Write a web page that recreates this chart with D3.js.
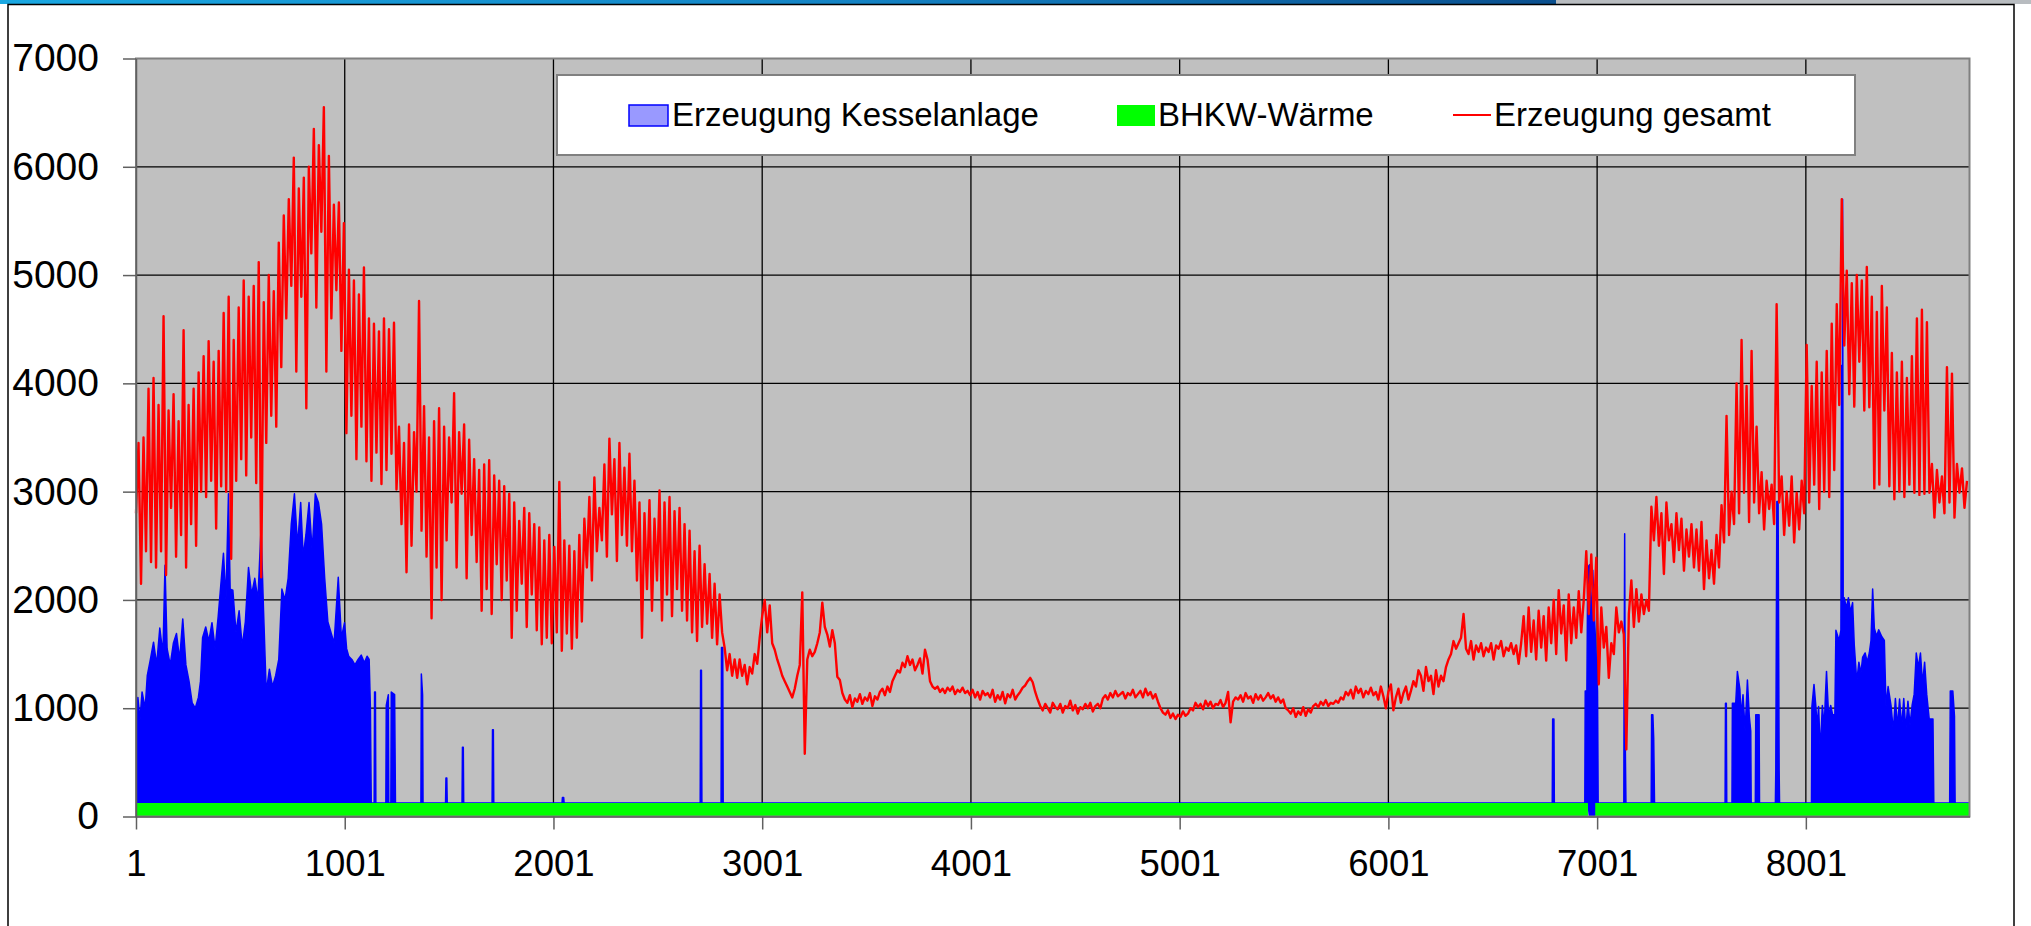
<!DOCTYPE html>
<html>
<head>
<meta charset="utf-8">
<script src="https://cdn.jsdelivr.net/npm/d3@7"></script>
<style>
  body { margin: 0; background: #fff; }
  svg { display: block; font-family: "Liberation Sans", Arial, sans-serif; }
</style>
</head>
<body>
<svg id="chart" width="2031" height="926"></svg>
<script>
// Legend / series names
const serien = ['Erzeugung Kesselanlage', 'BHKW-Wärme', 'Erzeugung gesamt'];

// Axis ticks
const xTicks = [1, 1001, 2001, 3001, 4001, 5001, 6001, 7001, 8001];
const yTicks = [0, 1000, 2000, 3000, 4000, 5000, 6000, 7000];

const gesamt = [
  2800, 3450, 2150, 3500, 2450, 3950, 2350, 4050, 2300, 3800, 2450, 4620, 2230, 3750, 2850, 3900, 2400, 3650, 2600, 4490,
  2300, 3800, 2700, 3950, 2500, 4100, 3000, 4250, 2950, 4390, 3100, 4200, 2660, 4300, 3050, 4650, 3000, 4800, 2380, 4400,
  3100, 4700, 3300, 4950, 3150, 4800, 3500, 4900, 3080, 5120, 2210, 4750, 3450, 5000, 3700, 4850, 3600, 5300, 4150, 5550,
  4600, 5700, 4900, 6085, 4110, 5800, 4800, 5900, 3770, 6000, 5200, 6350, 4700, 6200, 5400, 6550, 4110, 6100, 4600, 5650,
  4860, 5670, 4300, 5480, 3540, 5050, 3700, 4950, 3300, 4820, 3600, 5070, 3280, 4600, 3100, 4550, 3360, 4480, 3070, 4600,
  3200, 4500, 3350, 4560, 3020, 3600, 2700, 3450, 2255, 3620, 2500, 3550, 3000, 4760, 2640, 3790, 2400, 3500, 1830, 3650,
  2300, 3770, 2000, 3600, 2550, 3500, 2900, 3910, 2300, 3550, 2980, 3620, 2200, 3480, 2600, 3300, 2350, 3200, 1900, 3250,
  2100, 3290, 1870, 3150, 2330, 3100, 2000, 3050, 2180, 2980, 1650, 2900, 1900, 2730, 2150, 2850, 1750, 2800, 2050, 2700,
  1720, 2670, 1590, 2550, 1650, 2600, 1600, 2490, 1700, 3090, 1530, 2550, 1690, 2500, 1550, 2450, 1650, 2600, 1800, 2750,
  2300, 2950, 2180, 3130, 2450, 2850, 2550, 3250, 2400, 3490, 2790, 3300, 2360, 3450, 2600, 3220, 2500, 3350, 2450, 3100,
  2180, 2900, 1650, 2800, 2100, 2920, 1900, 2750, 2180, 3010, 1810, 2900, 2050, 2950, 1850, 2820, 2100, 2850, 1900, 2700,
  1810, 2640, 1700, 2450, 1620, 2500, 1750, 2330, 1780, 2240, 1650, 2150, 1590, 2050, 1700, 1560, 1350, 1500, 1300, 1450,
  1280, 1450, 1300, 1400, 1220, 1380, 1320, 1500, 1410, 1650, 1850, 2000, 1700, 1950, 1600, 1540, 1450, 1380, 1300, 1250,
  1200, 1150, 1100, 1180, 1300, 1400, 2070, 580, 1450, 1540, 1480, 1520, 1600, 1700, 1975, 1750, 1680, 1570, 1720, 1600,
  1290, 1260, 1140, 1080, 1050, 1120, 1010, 1090, 1060, 1130, 1040, 1100, 1070, 1140, 1020, 1110, 1080, 1150, 1180, 1120,
  1200, 1150, 1250, 1300, 1350, 1330, 1420, 1380, 1480, 1400, 1450, 1350, 1400, 1460, 1320, 1540, 1450, 1250, 1200, 1180,
  1200, 1150, 1180, 1140, 1190, 1160, 1200, 1130, 1170, 1150, 1190, 1140, 1160, 1120, 1170, 1100, 1150, 1080, 1160, 1120,
  1140, 1100, 1170, 1060, 1120, 1080, 1150, 1045, 1130, 1100, 1170, 1080, 1120, 1150, 1190, 1210, 1250, 1280, 1240, 1150,
  1080, 1020, 980, 1040, 1000, 960, 1050, 1010, 990, 1040, 960, 1020, 1000, 1070, 980, 1030, 950, 1010, 990, 1040,
  1000, 1050, 970, 1020, 1040, 1000, 1090, 1120, 1080, 1140, 1100, 1160, 1110, 1130, 1150, 1090, 1140, 1120, 1170, 1100,
  1130, 1160, 1100, 1180, 1120, 1150, 1090, 1130, 1060, 1000, 960, 940, 980, 910, 950, 900, 940, 920, 970, 930,
  950, 1000, 980, 1050, 1010, 1040, 990, 1070, 1020, 1060, 1000, 1040, 1030, 1075, 1010, 1050, 1150, 870, 1060, 1100,
  1080, 1120, 1060, 1140, 1090, 1110, 1050, 1130, 1080, 1120, 1070, 1100, 1140, 1090, 1120, 1060, 1100, 1050, 1080, 1000,
  980, 950, 1000, 920, 970, 940, 1010, 930, 990, 960, 1020, 1040, 1010, 1060, 1030, 1075, 1020, 1050, 1040, 1070,
  1050, 1100, 1080, 1150, 1120, 1170, 1090, 1200, 1140, 1180, 1100, 1160, 1130, 1190, 1120, 1150, 1080, 1200, 1110, 1000,
  1150, 1220, 980, 1100, 1180, 1050, 1140, 1200, 1080, 1160, 1250, 1200, 1350, 1300, 1160, 1380, 1250, 1300, 1130, 1350,
  1200, 1300, 1250, 1380, 1450, 1500, 1620, 1550, 1600, 1650, 1870, 1550, 1500, 1620, 1450, 1580, 1520, 1600, 1480, 1560,
  1520, 1600, 1450, 1580, 1550, 1620, 1480, 1560, 1530, 1600, 1500, 1580, 1410, 1600, 1850, 1480, 1930, 1520, 1810, 1450,
  1900, 1560, 1850, 1440, 1930, 1600, 2000, 1500, 2090, 1690, 1950, 1440, 2050, 1600, 1930, 1650, 2080, 1700, 2000, 2450,
  1870, 2420, 1810, 2390, 1220, 1930, 1560, 1750, 1280, 1600, 1500, 1930, 1700, 1800, 1680, 620, 1870, 2180, 1750, 2100,
  1800, 2050, 1870, 2000, 1900, 2860, 2550, 2950, 2500, 2800, 2240, 2900, 2550, 2700, 2350, 2800, 2460, 2750, 2270, 2650,
  2400, 2700, 2300, 2650, 2270, 2720, 2100, 2550, 2200, 2460, 2150, 2600, 2300, 2875, 2530, 3700, 2600, 3000, 2700, 4000,
  2800, 4400, 2990, 3975, 2720, 4300, 2900, 3600, 2800, 3180, 2650, 3100, 2840, 3065, 2700, 4730, 2900, 3140, 2600, 3000,
  2685, 3140, 2530, 2990, 2650, 3100, 2800, 4355, 2900, 3975, 3065, 4200, 2840, 4100, 3000, 4300, 2950, 4550, 3200, 4730,
  3800, 5700, 4350, 5040, 3900, 4925, 3785, 5000, 4200, 4950, 3750, 5075, 3780, 4800, 3030, 4660, 3065, 4900, 3750, 4700,
  3050, 4280, 2930, 4100, 3000, 4200, 2950, 4050, 3065, 4250, 2990, 4600, 2970, 4680, 2980, 4565, 2990, 3255, 2760, 3200,
  2900, 3140, 2800, 4150, 2900, 4090, 2760, 3255, 2990, 3215, 2850, 3100
];
const stunden = gesamt.map((d, i) => 1 + 12 * i);

// BHKW-Wärme: [hour, value] where the level changes
const bhkw = [[1, 125], [6957, 0], [6992, 125], [8785, 125]];

// Erzeugung Kesselanlage: [hour, value] (stacked on top of BHKW)
const kessel = [
  [1, 675], [10, 975], [20, 765], [30, 1025], [45, 875], [55, 1175], [70, 1325], [85, 1485], [100, 1275], [115, 1615],
  [130, 1375], [140, 2195], [150, 1425], [165, 1275], [180, 1475], [195, 1565], [210, 1325], [225, 1700], [240, 1275],
  [255, 1125], [270, 925], [285, 875], [300, 975], [310, 1125], [320, 1525], [335, 1625], [350, 1495], [365, 1665],
  [380, 1425], [395, 1725], [410, 2075], [420, 2305], [432, 1875], [444, 2855], [452, 1975], [465, 1965], [480, 1575],
  [495, 1775], [510, 1445], [525, 1675], [540, 2175], [555, 1925], [570, 2075], [585, 1875], [600, 2535], [612, 1775],
  [625, 1025], [640, 1235], [655, 1075], [670, 1175], [685, 1325], [700, 1975], [715, 1875], [730, 2075], [745, 2575],
  [760, 2855], [775, 2375], [790, 2775], [802, 2275], [815, 2475], [830, 2775], [845, 2325], [860, 2855], [875, 2775],
  [890, 2575], [905, 2075], [920, 1675], [935, 1575], [950, 1475], [970, 2085], [985, 1525], [1000, 1665], [1010, 1425],
  [1020, 1355], [1035, 1325], [1050, 1275], [1065, 1325], [1080, 1365], [1095, 1295], [1108, 1355], [1118, 1325],
  [1124, 875], [1128, 0],
  [1142, 0], [1144, 1025], [1148, 1025], [1150, 0],
  [1198, 0], [1200, 900], [1210, 1000], [1212, 0], [1222, 0], [1224, 1025], [1240, 1000], [1244, 0],
  [1366, 0], [1368, 1190], [1374, 1000], [1376, 0],
  [1484, 0], [1486, 230], [1490, 230], [1492, 0],
  [1563, 0], [1565, 515], [1569, 515], [1571, 0],
  [1707, 0], [1709, 675], [1713, 675], [1715, 0],
  [2042, 0], [2044, 50], [2050, 50], [2052, 0],
  [2704, 0], [2706, 1225], [2710, 1225], [2712, 0],
  [2804, 0], [2806, 1435], [2812, 1435], [2814, 0],
  [6786, 0], [6788, 775], [6794, 775], [6796, 0],
  [6942, 0], [6944, 1035], [6952, 1035], [6956, 2175], [6965, 2325], [6972, 1775], [6980, 2275], [6990, 1775],
  [7003, 1035], [7006, 0],
  [7129, 0], [7130, 925], [7133, 2485], [7136, 525], [7139, 0],
  [7260, 0], [7262, 815], [7268, 815], [7272, 600], [7276, 0],
  [7614, 0], [7616, 920], [7620, 920], [7622, 0],
  [7647, 0], [7649, 920], [7665, 920], [7673, 1215], [7685, 1050], [7690, 800], [7700, 1000], [7710, 665],
  [7721, 1135], [7730, 800], [7737, 665], [7739, 0],
  [7759, 0], [7761, 815], [7777, 815], [7779, 0],
  [7855, 0], [7857, 300], [7862, 2785], [7868, 2785], [7873, 300], [7875, 0],
  [8028, 0], [8030, 890], [8040, 1095], [8049, 890], [8055, 700], [8062, 890], [8070, 475], [8080, 900], [8089, 700],
  [8095, 1000], [8100, 1215], [8110, 800], [8120, 900], [8129, 815], [8140, 815], [8145, 1595], [8160, 1500],
  [8169, 1595], [8172, 4040], [8175, 1600], [8177, 5575], [8180, 1700], [8185, 1895], [8195, 1800], [8205, 1895],
  [8215, 1765], [8225, 1850], [8233, 1455], [8245, 1120], [8255, 1300], [8265, 1200], [8273, 1345], [8285, 1385],
  [8295, 1300], [8305, 1385], [8313, 1500], [8321, 1975], [8329, 1615], [8340, 1540], [8350, 1600], [8365, 1535],
  [8377, 1500], [8385, 890], [8395, 1075], [8409, 900], [8420, 665], [8430, 965], [8440, 700], [8450, 960],
  [8460, 700], [8470, 965], [8480, 670], [8490, 940], [8500, 720], [8510, 900], [8520, 1005], [8530, 1385],
  [8540, 1250], [8550, 1385], [8560, 1100], [8570, 1300], [8580, 1005], [8592, 775], [8610, 775], [8614, 0],
  [8690, 0], [8693, 1035], [8705, 1035], [8713, 800], [8716, 0], [8784, 0]
];

const plot = {left: 136, right: 1969.5, top: 58.5, bottom: 816.5};

const svg = d3.select('#chart');

// thin header strip at the very top
const defs = svg.append('defs');
const grad = defs.append('linearGradient').attr('id', 'strip');
grad.append('stop').attr('offset', '0%').attr('stop-color', '#1aa8e2');
grad.append('stop').attr('offset', '55%').attr('stop-color', '#1483c4');
grad.append('stop').attr('offset', '100%').attr('stop-color', '#0a4f8e');
svg.append('rect').attr('x', 0).attr('y', 0).attr('width', 1556).attr('height', 4).attr('fill', 'url(#strip)');
svg.append('rect').attr('x', 1556).attr('y', 0).attr('width', 475).attr('height', 4).attr('fill', '#b8bcc0');

// chart frame
svg.append('rect')
    .attr('x', 8).attr('y', 4.5)
    .attr('width', 2006).attr('height', 1000)
    .attr('fill', 'none').attr('stroke', '#000').attr('stroke-width', 1.5);

const x = d3.scaleLinear().domain([1, 8785]).range([plot.left, plot.right]);
const y = d3.scaleLinear().domain([0, 7000]).range([plot.bottom, plot.top]);

// plot background
svg.append('rect')
    .attr('x', plot.left).attr('y', plot.top)
    .attr('width', plot.right - plot.left).attr('height', plot.bottom - plot.top)
    .attr('fill', '#c0c0c0');

// gridlines
svg.append('g').selectAll('line')
    .data(yTicks.filter(d => d > 0 && d < 7000))
    .join('line')
    .attr('x1', plot.left).attr('x2', plot.right)
    .attr('y1', d => y(d)).attr('y2', d => y(d))
    .attr('stroke', '#000').attr('stroke-width', 1.3);
svg.append('g').selectAll('line')
    .data(xTicks.filter(d => d > 1))
    .join('line')
    .attr('x1', d => x(d)).attr('x2', d => x(d))
    .attr('y1', plot.top).attr('y2', plot.bottom)
    .attr('stroke', '#000').attr('stroke-width', 1.3);

// stacked areas
const bhkwAt = h => {
    const i = d3.bisector(d => d[0]).right(bhkw, h) - 1;
    return bhkw[Math.max(0, i)][1];
};

const kesselArea = d3.area()
    .x(d => x(d[0]))
    .y0(d => y(bhkwAt(d[0])))
    .y1(d => y(bhkwAt(d[0]) + d[1]));

svg.append('path')
    .datum(kessel)
    .attr('d', kesselArea)
    .attr('fill', '#0000ff')
    .attr('stroke', '#0000ff')
    .attr('stroke-width', 1.5)
    .attr('stroke-linejoin', 'round');

const bhkwArea = d3.area()
    .curve(d3.curveStepAfter)
    .x(d => x(d[0]))
    .y0(y(0))
    .y1(d => y(d[1]));

svg.append('path')
    .datum(bhkw)
    .attr('d', bhkwArea)
    .attr('fill', '#00ff00');

// total line
const gesamtLine = d3.line()
    .x((d, i) => x(stunden[i]))
    .y(d => y(d));

svg.append('path')
    .datum(gesamt)
    .attr('d', gesamtLine)
    .attr('fill', 'none')
    .attr('stroke', '#ff0000')
    .attr('stroke-width', 2.4)
    .attr('stroke-linejoin', 'round');

// plot border
svg.append('rect')
    .attr('x', plot.left).attr('y', plot.top)
    .attr('width', plot.right - plot.left).attr('height', plot.bottom - plot.top)
    .attr('fill', 'none').attr('stroke', '#808080').attr('stroke-width', 2);

// axes
const yAxis = d3.axisLeft(y)
    .tickValues(yTicks)
    .tickFormat(d3.format('d'))
    .tickSize(13).tickSizeOuter(0).tickPadding(24);
const xAxis = d3.axisBottom(x)
    .tickValues(xTicks)
    .tickFormat(d3.format('d'))
    .tickSize(13).tickSizeOuter(0).tickPadding(20.6);

const gy = svg.append('g').attr('transform', `translate(${plot.left},0)`).call(yAxis);
const gx = svg.append('g').attr('transform', `translate(0,${plot.bottom})`).call(xAxis);
[gy, gx].forEach(g => {
    g.select('.domain').attr('stroke', '#606060').attr('stroke-width', 1.5);
    g.selectAll('.tick line').attr('stroke', '#606060').attr('stroke-width', 1.5);
    g.selectAll('.tick text')
        .attr('fill', '#000')
        .style('font-family', '"Liberation Sans", Arial, sans-serif');
});
gy.selectAll('.tick text').style('font-size', '39px');
gx.selectAll('.tick text').style('font-size', '36.5px');

// legend
const legend = svg.append('g');
legend.append('rect')
    .attr('x', 557).attr('y', 75)
    .attr('width', 1298).attr('height', 80)
    .attr('fill', '#fff').attr('stroke', '#808080').attr('stroke-width', 2);

const legendX = [629, 1117, 1453];
legend.append('rect')
    .attr('x', legendX[0]).attr('y', 105)
    .attr('width', 39).attr('height', 21)
    .attr('fill', '#9999ff').attr('stroke', '#0000ff').attr('stroke-width', 1.5);
legend.append('rect')
    .attr('x', legendX[1]).attr('y', 105)
    .attr('width', 38).attr('height', 21)
    .attr('fill', '#00ff00');
legend.append('line')
    .attr('x1', legendX[2]).attr('x2', legendX[2] + 38)
    .attr('y1', 115).attr('y2', 115)
    .attr('stroke', '#ff0000').attr('stroke-width', 2);

legend.selectAll('text')
    .data(serien)
    .join('text')
    .attr('x', (d, i) => legendX[i] + (i === 0 ? 43 : 41))
    .attr('y', 126)
    .style('font-size', '33px')
    .attr('fill', '#000')
    .text(d => d);
</script>
</body>
</html>
